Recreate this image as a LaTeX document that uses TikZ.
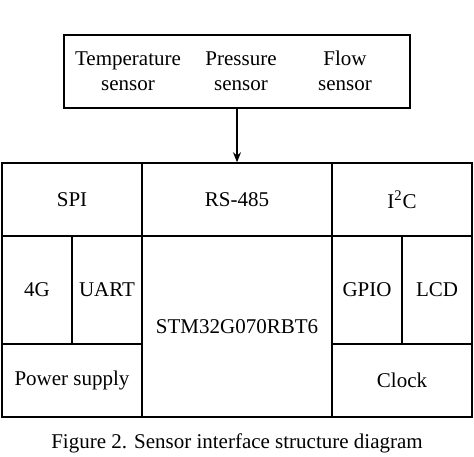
\documentclass[tikz,border=0pt]{standalone}
\usepackage{fontspec}
\setmainfont{Liberation Serif}
\usetikzlibrary{arrows.meta}

\begin{document}
\begin{tikzpicture}[x=0.5pt,y=-0.5pt,font=\fontsize{10.5}{12.5}\selectfont,
   cell/.style n args={2}{draw,line width=0.75pt,rectangle,minimum width=#1*0.5pt,minimum height=#2*0.5pt,inner sep=0pt}]
\useasboundingbox (0,0) rectangle (474,456);
% sensor box
\node[cell={346}{73}] (sensors) at (237,71.5) {};
\node[align=center] (temp) at (128,71) {Temperature\\sensor};
\node[align=center] (press) at (241,71) {Pressure\\sensor};
\node[align=center] (flow) at (345,71) {Flow\\sensor};
% interface grid
\foreach \n/\x/\y/\w/\h/\t in %
{spi/72/199.5/140/73/SPI,rs/237/199.5/190/73/RS-485,iic/402/199.5/140/73/I\textsuperscript{2}C,
 fourg/37/290/70/108/4G,uart/107/290/70/108/UART,gpio/367/290/70/108/GPIO,lcd/437/290/70/108/LCD,
 mcu/237/326.5/190/181/STM32G070RBT6,power/72/380.5/140/73/Power supply,clock/402/380.5/140/73/Clock} {
   \node[cell={\w}{\h}] (\n) at (\x,\y) {\t};
}
\draw[-{Stealth[length=5pt,width=4pt]},line width=0.6pt] (sensors.south) -- (rs.north);
\node (caption) at (237,443) {Figure 2. Sensor interface structure diagram};
\end{tikzpicture}
\end{document}
